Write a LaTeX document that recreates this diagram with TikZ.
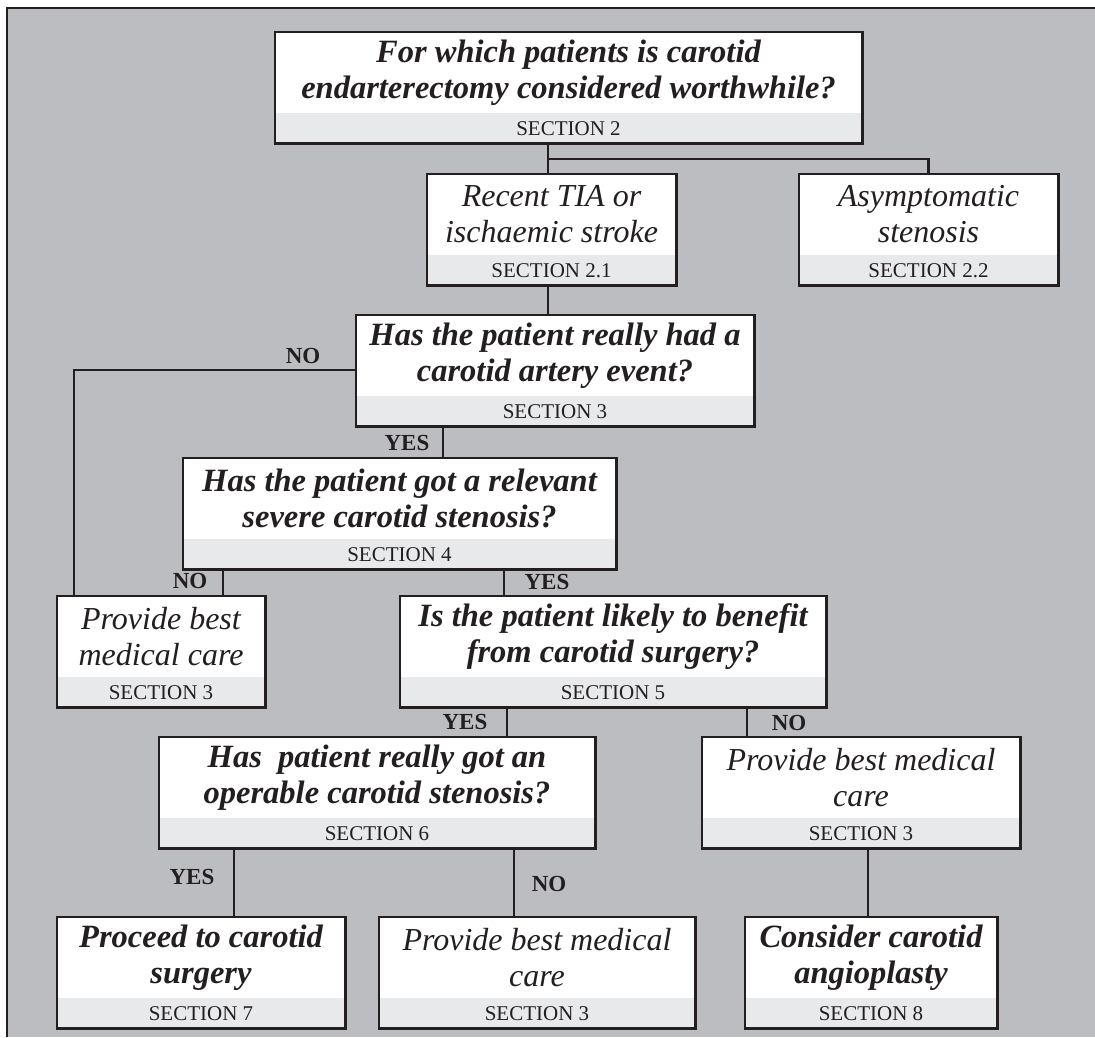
\documentclass[tikz,border=0pt]{standalone}
\usepackage{fontspec}
\setmainfont{Liberation Serif}
\usetikzlibrary{positioning}
\definecolor{ink}{RGB}{35,31,32}
\definecolor{panel}{RGB}{188,189,193}
\definecolor{strip}{RGB}{232,233,235}

\begin{document}
\begin{tikzpicture}[
    x=1pt, y=-1pt,
    node distance=0pt,
    part/.style={fill=white, minimum height=81pt, inner sep=0pt,
                 align=center, text=ink},
    quest/.style={part, font=\fontsize{32.5}{36}\selectfont\bfseries\itshape},
    answ/.style={part, font=\fontsize{32}{36}\selectfont\itshape},
    sect/.style={fill=strip, minimum height=30pt, inner sep=0pt,
                 text=ink, font=\fontsize{21}{24}\selectfont},
    frame/.style={draw=ink, line width=2.6pt},
    link/.style={draw=ink, line width=2.6pt},
    lbl/.style={font=\fontsize{23}{25}\selectfont\bfseries, text=ink},
  ]
  % Panel
  \useasboundingbox (0,0) rectangle (1095,1037);
  \fill[panel] (6,7) rectangle (1095,1037);
  \draw[frame] (7,1037) -- (7,8) -- (1095,8);

  % Entry question
  \node[quest, minimum width=587pt] (ask) at (568.5,72.5)
    {For which patients is carotid\\endarterectomy considered worthwhile?};
  \node[sect, minimum width=587pt, below=of ask] (ask-sec) {SECTION 2};

  % Patient groups
  \node[answ, minimum width=249pt] (tia) at (551.5,214.5)
    {Recent TIA or\\ischaemic stroke};
  \node[sect, minimum width=249pt, below=of tia] (tia-sec) {SECTION 2.1};
  \node[answ, minimum width=259pt] (asym) at (928.5,214.5)
    {Asymptomatic\\stenosis};
  \node[sect, minimum width=259pt, below=of asym] (asym-sec) {SECTION 2.2};

  % Decisions
  \node[quest, minimum width=398pt] (event) at (555,355.5)
    {Has the patient really had a\\carotid artery event?};
  \node[sect, minimum width=398pt, below=of event] (event-sec) {SECTION 3};
  \node[quest, minimum width=433pt] (sten) at (399.5,498.5)
    {Has the patient got a relevant\\severe carotid stenosis?};
  \node[sect, minimum width=433pt, below=of sten] (sten-sec) {SECTION 4};
  \node[answ, minimum width=208pt] (bmcA) at (161,636.5)
    {Provide best\\medical care};
  \node[sect, minimum width=208pt, below=of bmcA] (bmcA-sec) {SECTION 3};
  \node[quest, minimum width=426pt] (benefit) at (613,636.5)
    {Is the patient likely to benefit\\from carotid surgery?};
  \node[sect, minimum width=426pt, below=of benefit] (benefit-sec) {SECTION 5};
  \node[quest, minimum width=436pt] (oper) at (377,777.5)
    {Has\ \ patient really got an\\operable carotid stenosis?};
  \node[sect, minimum width=436pt, below=of oper] (oper-sec) {SECTION 6};
  \node[answ, minimum width=318pt] (bmcB) at (861,777.5)
    {Provide best medical\\care};
  \node[sect, minimum width=318pt, below=of bmcB] (bmcB-sec) {SECTION 3};

  % Outcomes
  \node[quest, minimum width=288pt] (surg) at (201,957.5)
    {Proceed to carotid\\surgery};
  \node[sect, minimum width=288pt, below=of surg] (surg-sec) {SECTION 7};
  \node[answ, minimum width=316pt] (bmcC) at (537,957.5)
    {Provide best medical\\care};
  \node[sect, minimum width=316pt, below=of bmcC] (bmcC-sec) {SECTION 3};
  \node[quest, minimum width=252pt] (angio) at (871,957.5)
    {Consider carotid\\angioplasty};
  \node[sect, minimum width=252pt, below=of angio] (angio-sec) {SECTION 8};

  % Box outlines
  \foreach \b in {ask,tia,asym,event,sten,bmcA,benefit,oper,bmcB,surg,bmcC,angio}
    \draw[frame] (\b.north west) rectangle (\b-sec.south east);

  % Connectors
  \coordinate (fork) at (548,159);
  \draw[link] (ask-sec.south -| fork) -- (fork) -| (asym.north);
  \draw[link] (fork) -- (tia.north -| fork);
  \draw[link] (tia-sec.south -| fork) -- (event.north -| fork);
  \draw[link] (event.west |- 0,370) -| (bmcA.north -| 74,0);
  \draw[link] (event-sec.south -| 443,0) -- (sten.north -| 443,0);
  \draw[link] (sten-sec.south -| 223,0) -- (bmcA.north -| 223,0);
  \draw[link] (sten-sec.south -| 504,0) -- (benefit.north -| 504,0);
  \draw[link] (benefit-sec.south -| 507,0) -- (oper.north -| 507,0);
  \draw[link] (benefit-sec.south -| 747,0) -- (bmcB.north -| 747,0);
  \draw[link] (oper-sec.south -| 234,0) -- (surg.north -| 234,0);
  \draw[link] (oper-sec.south -| 514,0) -- (bmcC.north -| 514,0);
  \draw[link] (bmcB-sec.south -| 868,0) -- (angio.north -| 868,0);

  % Answers
  \node[lbl] (noA)  at (303,356) {NO};
  \node[lbl] (yesA) at (407,443) {YES};
  \node[lbl] (noB)  at (190,581) {NO};
  \node[lbl] (yesB) at (547,582) {YES};
  \node[lbl] (yesC) at (465,722) {YES};
  \node[lbl] (noC)  at (789,723) {NO};
  \node[lbl] (yesD) at (192,877) {YES};
  \node[lbl] (noD)  at (549,884) {NO};
\end{tikzpicture}
\end{document}
